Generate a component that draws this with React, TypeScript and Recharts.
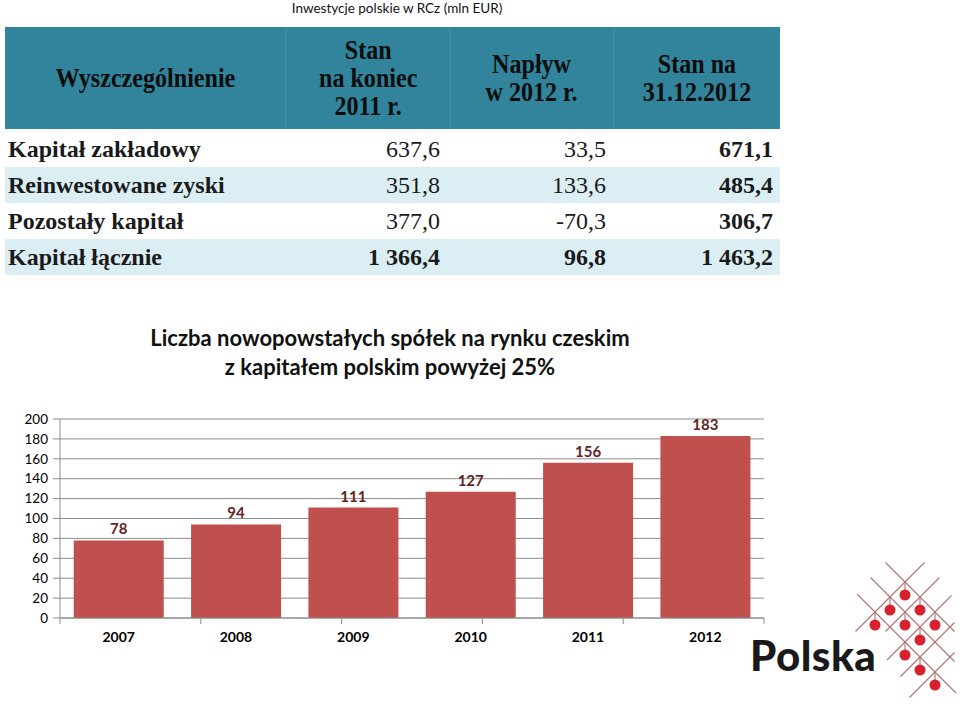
import React from 'react';
import { BarChart, Bar, XAxis, YAxis, CartesianGrid, LabelList } from 'recharts';

const pageTitle = 'Inwestycje polskie w RCz (mln EUR)';
const tableHeaders = ['Wyszczególnienie', 'Stan\nna koniec\n2011 r.', 'Napływ\nw 2012 r.', 'Stan na\n31.12.2012'];
const rowLabels = ['Kapitał zakładowy', 'Reinwestowane zyski', 'Pozostały kapitał', 'Kapitał łącznie'];
const stan2011 = ['637,6', '351,8', '377,0', '1 366,4'];
const naplyw2012 = ['33,5', '133,6', '-70,3', '96,8'];
const stan2012 = ['671,1', '485,4', '306,7', '1 463,2'];

const chartTitle = ['Liczba nowopowstałych spółek na rynku czeskim', 'z kapitałem polskim powyżej 25%'];
const years = ['2007', '2008', '2009', '2010', '2011', '2012'];
const companies = [78, 94, 111, 127, 156, 183];
const yTicks = [0, 20, 40, 60, 80, 100, 120, 140, 160, 180, 200];
const boundaryTicks = [0, 1, 2, 3, 4, 5, 6];

const data = years.map((y, i) => ({ year: y, value: companies[i] }));

const colEdges = [5, 285, 450, 613, 780];
const headerBg = '#31849b';
const stripe = '#dbeef4';

function Table() {
  const serif = '"Liberation Serif", "Times New Roman", serif';
  const rowTop = 131;
  const rowH = 36;
  return (
    <>
      <div
        style={{
          position: 'absolute',
          left: colEdges[0],
          top: 27,
          width: colEdges[4] - colEdges[0],
          height: 102,
          background: headerBg,
        }}
      />
      {tableHeaders.map((h, i) => (
        <div
          key={'h' + i}
          style={{
            position: 'absolute',
            left: colEdges[i],
            top: 27,
            width: colEdges[i + 1] - colEdges[i],
            height: 102,
            display: 'flex',
            alignItems: 'center',
            justifyContent: 'center',
            borderLeft: i > 0 ? '1px solid #3f93a8' : 'none',
            boxSizing: 'border-box',
          }}
        >
          <div
            style={{
              fontFamily: serif,
              fontWeight: 700,
              fontSize: 28,
              lineHeight: '28px',
              color: '#0d0d0d',
              textAlign: 'center',
              whiteSpace: 'pre',
              transform: 'scaleX(0.86)',
            }}
          >
            {h}
          </div>
        </div>
      ))}
      {rowLabels.map((label, r) => {
        const top = rowTop + r * rowH;
        const bold = r === 3;
        const cells = [stan2011[r], naplyw2012[r], stan2012[r]];
        return (
          <div key={'r' + r}>
            <div
              style={{
                position: 'absolute',
                left: colEdges[0],
                top,
                width: colEdges[4] - colEdges[0],
                height: rowH,
                background: r % 2 === 1 ? stripe : '#ffffff',
              }}
            />
            <div
              style={{
                position: 'absolute',
                left: colEdges[0] + 3,
                top,
                height: rowH,
                lineHeight: rowH + 'px',
                fontFamily: serif,
                fontWeight: 700,
                fontSize: 24,
                color: '#1a1a1a',
                whiteSpace: 'nowrap',
              }}
            >
              {label}
            </div>
            {cells.map((c, j) => (
              <div
                key={'c' + j}
                style={{
                  position: 'absolute',
                  left: colEdges[j + 1],
                  top,
                  width: colEdges[j + 2] - colEdges[j + 1] - (j === 0 ? 10 : 7),
                  height: rowH,
                  lineHeight: rowH + 'px',
                  textAlign: 'right',
                  fontFamily: serif,
                  fontWeight: bold || j === 2 ? 700 : 400,
                  fontSize: 24,
                  color: '#1a1a1a',
                  whiteSpace: 'nowrap',
                }}
              >
                {c}
              </div>
            ))}
          </div>
        );
      })}
    </>
  );
}

function Logo() {
  const ox = 905;
  const oy = 582;
  const s = 15;
  const P = (a: number, b: number) => [ox + s * a, oy + s * b];
  const back: [number, number, number][] = [
    [0, -1.3, 3.3],
    [-2, -0.3, 5.3],
    [-4, 0.8, 7.4],
  ];
  const fwd: [number, number, number][] = [
    [0, -1.3, 3.3],
    [2, -0.3, 3.3],
    [4, 0.9, 5.2],
    [6, 2.7, 6.3],
    [8, 4.7, 7.7],
  ];
  const nodes = [
    [0, 0], [-1, 1], [1, 1], [-2, 2], [0, 2], [2, 2], [1, 3], [0, 4], [1, 5], [2, 6],
  ];
  return (
    <svg style={{ position: 'absolute', left: 0, top: 0 }} width={960} height={713}>
      {back.map(([k, b0, b1], i) => {
        const [x1, y1] = P(b0 + k, b0);
        const [x2, y2] = P(b1 + k, b1);
        return <line key={'b' + i} x1={x1} y1={y1} x2={x2} y2={y2} stroke="#b07272" strokeWidth={1.1} />;
      })}
      {fwd.map(([k, b0, b1], i) => {
        const [x1, y1] = P(k - b0, b0);
        const [x2, y2] = P(k - b1, b1);
        return <line key={'f' + i} x1={x1} y1={y1} x2={x2} y2={y2} stroke="#b07272" strokeWidth={1.1} />;
      })}
      {nodes.map(([a, b], i) => {
        const [x, y] = P(a, b);
        return (
          <g key={'n' + i}>
            <line x1={x} y1={y} x2={x} y2={y + 13} stroke="#b07272" strokeWidth={1.1} />
            <circle cx={x} cy={y + 13} r={5.5} fill="#d7212c" />
          </g>
        );
      })}
    </svg>
  );
}

export default function App() {
  const sans = 'Lato, "Open Sans", sans-serif';
  return (
    <div style={{ position: 'absolute', left: 0, top: 0, width: 960, height: 713, background: '#ffffff', overflow: 'hidden' }}>
      <div
        style={{
          position: 'absolute',
          left: 0,
          top: 0,
          width: 794,
          textAlign: 'center',
          fontFamily: sans,
          fontSize: 13.5,
          lineHeight: '16px',
          color: '#111',
        }}
      >
        {pageTitle}
      </div>
      <Table />
      <div
        style={{
          position: 'absolute',
          left: 0,
          top: 323,
          width: 780,
          textAlign: 'center',
          fontFamily: sans,
          fontWeight: 700,
          fontSize: 22,
          lineHeight: '29px',
          color: '#111',
        }}
      >
        {chartTitle.map((t, i) => (
          <div key={i}>{t}</div>
        ))}
      </div>
      <div style={{ position: 'absolute', left: 0, top: 400 }}>
        <BarChart
          width={780}
          height={262}
          data={data}
          margin={{ top: 19, right: 16, bottom: 6, left: 0 }}
          barCategoryGap="11.7%"
        >
          <CartesianGrid vertical={false} stroke="#8c8c8c" strokeWidth={1} xAxisId={1} />
          <XAxis
            xAxisId={0}
            type="number"
            domain={[0, 6]}
            ticks={boundaryTicks}
            tickFormatter={() => ''}
            height={8}
            tickSize={6}
            stroke="#8c8c8c"
            axisLine={{ stroke: '#8c8c8c' }}
            tickLine={{ stroke: '#8c8c8c' }}
            allowDataOverflow
          />
          <XAxis
            xAxisId={1}
            dataKey="year"
            height={30}
            axisLine={false}
            tickLine={false}
            tickSize={4}
            tickMargin={2}
            tick={{ fontFamily: sans, fontSize: 14, fontWeight: 700, fill: '#000' }}
            interval={0}
          />
          <YAxis
            width={60}
            domain={[0, 200]}
            ticks={yTicks}
            interval={0}
            tickSize={7}
            tickMargin={5}
            axisLine={{ stroke: '#8c8c8c' }}
            tickLine={{ stroke: '#8c8c8c' }}
            tick={{ fontFamily: sans, fontSize: 13.5, fill: '#000' }}
          />
          <Bar dataKey="value" xAxisId={1} fill="#c0504d" isAnimationActive={false}>
            <LabelList
              dataKey="value"
              position="top"
              offset={6}
              style={{ fontFamily: sans, fontSize: 15, fontWeight: 700, fill: '#632523' }}
            />
          </Bar>
        </BarChart>
      </div>
      <div
        style={{
          position: 'absolute',
          left: 750,
          top: 632,
          fontFamily: sans,
          fontWeight: 900,
          fontSize: 42,
          lineHeight: '46px',
          color: '#1a1a1a',
          letterSpacing: 0.5,
        }}
      >
        Polska
      </div>
      <Logo />
    </div>
  );
}
